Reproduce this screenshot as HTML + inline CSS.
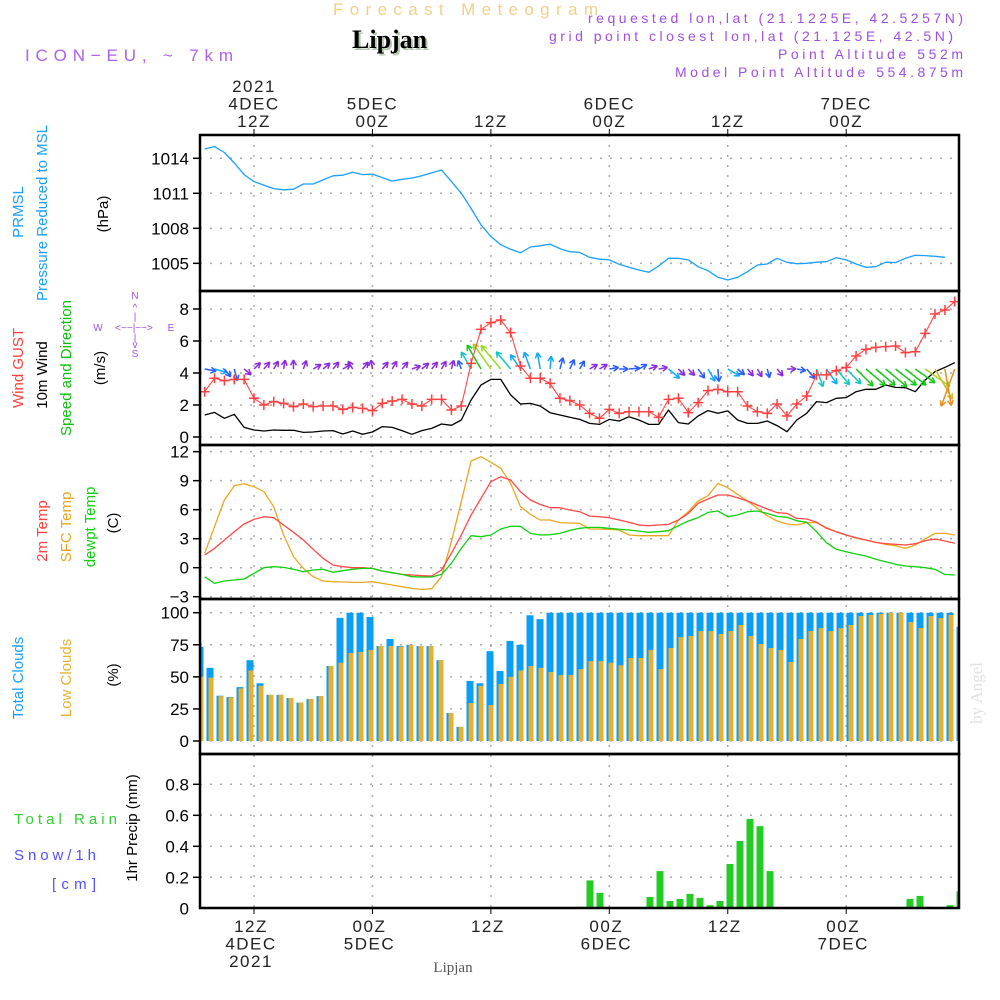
<!DOCTYPE html>
<html><head><meta charset="utf-8"><title>Forecast Meteogram - Lipjan</title>
<style>
html,body{margin:0;padding:0;background:#fff;width:1000px;height:1000px;overflow:hidden}
svg{display:block}
text{font-family:"Liberation Sans",sans-serif}
</style></head>
<body>
<svg id="chart" width="1000" height="1000" viewBox="0 0 1000 1000" xmlns="http://www.w3.org/2000/svg">
<!-- header -->
<text x="333" y="15" font-size="17" fill="#f2cf8a" textLength="265" lengthAdjust="spacing">Forecast Meteogram</text>
<text x="354" y="50" font-size="26" font-weight="bold" style="font-family:'Liberation Serif',serif" fill="#b8c8b0">Lipjan</text>
<text x="352" y="48" font-size="26" font-weight="bold" style="font-family:'Liberation Serif',serif" fill="#000">Lipjan</text>
<text x="25" y="61" font-size="17" fill="#b060ee" textLength="208" lengthAdjust="spacing">ICON−EU, ~ 7km</text>
<text x="588" y="23" font-size="14" fill="#a050e0" textLength="375" lengthAdjust="spacing">requested lon,lat (21.1225E, 42.5257N)</text>
<text x="549" y="41" font-size="14" fill="#a050e0" textLength="404" lengthAdjust="spacing">grid point closest lon,lat (21.125E, 42.5N)</text>
<text x="778" y="59" font-size="14" fill="#a050e0" textLength="185" lengthAdjust="spacing">Point Altitude 552m</text>
<text x="675" y="77" font-size="14" fill="#a050e0" textLength="288" lengthAdjust="spacing">Model Point Altitude 554.875m</text>

<!-- left panel labels -->
<g font-size="15" text-anchor="middle">
<text transform="translate(23,212) rotate(-90)" fill="#1a9fff">PRMSL</text>
<text transform="translate(47,213) rotate(-90)" fill="#1a9fff">Pressure Reduced to MSL</text>
<text transform="translate(108,214) rotate(-90)" fill="#000">(hPa)</text>
<text transform="translate(23,368) rotate(-90)" fill="#ff4040">Wind GUST</text>
<text transform="translate(47,375) rotate(-90)" fill="#000">10m Wind</text>
<text transform="translate(71,368) rotate(-90)" fill="#10c010">Speed and Direction</text>
<text transform="translate(105,368) rotate(-90)" fill="#000">(m/s)</text>
<text transform="translate(47,531) rotate(-90)" fill="#ff4040">2m Temp</text>
<text transform="translate(71,527) rotate(-90)" fill="#e8a820">SFC Temp</text>
<text transform="translate(95,527) rotate(-90)" fill="#10d010">dewpt Temp</text>
<text transform="translate(118,523) rotate(-90)" fill="#000">(C)</text>
<text transform="translate(23,678) rotate(-90)" fill="#1a9fff">Total Clouds</text>
<text transform="translate(71,678) rotate(-90)" fill="#e8b030">Low Clouds</text>
<text transform="translate(118,675) rotate(-90)" fill="#000">(%)</text>
<text transform="translate(137,828) rotate(-90)" fill="#000">1hr Precip (mm)</text>
</g>
<text x="14" y="824" font-size="15" fill="#30d030" textLength="103" lengthAdjust="spacing">Total  Rain</text>
<text x="14" y="860" font-size="15" fill="#5050ff" textLength="82" lengthAdjust="spacing">Snow/1h</text>
<text x="52" y="889" font-size="15" fill="#5050ff" textLength="44" lengthAdjust="spacing">[cm]</text>
<g fill="#a050e0" font-size="10" text-anchor="middle">
<text x="135" y="299">N</text><text x="135" y="311">^</text><text x="135" y="320">|</text>
<text x="98" y="331">W</text><text x="134" y="331">&lt;−−|−−&gt;</text><text x="171" y="331">E</text>
<text x="135" y="341">|</text><text x="135" y="348">v</text><text x="135" y="357">S</text>
</g>
<text transform="translate(982,693) rotate(-90)" font-size="17" style="font-family:'Liberation Serif',serif" fill="#dfe3df" text-anchor="middle">by Angel</text>
<text x="453" y="972" font-size="15" style="font-family:'Liberation Serif',serif" fill="#555" text-anchor="middle">Lipjan</text>
<g id="layer"></g>
</svg>
<script>
// ---- data (hourly, starting 07Z 4DEC = -5h from 12Z 4DEC) ----
const startHour = -5;
const pressure = [1014.8,1015.0,1014.5,1013.6,1012.6,1012.0,1011.7,1011.4,1011.3,1011.35,1011.8,1011.8,1012.15,1012.5,1012.55,1012.8,1012.6,1012.65,1012.35,1012.05,1012.2,1012.3,1012.5,1012.75,1013.0,1012.0,1011.0,1009.7,1008.3,1007.3,1006.6,1006.2,1005.9,1006.4,1006.5,1006.65,1006.25,1006.0,
1005.94,1005.52,1005.35,1005.29,1004.92,1004.66,1004.43,1004.23,1004.77,1005.43,1005.43,1005.29,1004.71,1004.37,1003.8,1003.57,1003.8,1004.28,1004.86,1004.94,1005.43,1005.09,1004.97,1005.0,1005.1,1005.14,1005.48,1005.29,1004.94,1004.66,1004.71,1005.1,1005.06,1005.43,1005.69,1005.66,1005.6,1005.52];
const windGust = [2.83,3.67,3.52,3.6,3.6,2.42,2.0,2.21,2.1,1.9,2.06,1.9,1.94,1.94,1.73,1.85,1.79,1.65,2.1,2.25,2.35,2.06,1.94,2.35,2.35,1.69,1.94,4.6,6.73,7.15,7.31,6.52,4.44,3.67,3.67,3.35,2.42,2.27,2.0,1.48,
1.17,1.73,1.48,1.58,1.58,1.58,1.23,2.35,2.42,1.52,2.15,2.9,2.98,2.83,2.83,1.94,1.58,1.48,2.06,1.31,2.06,2.56,3.88,3.88,4.15,4.35,5.06,5.48,5.6,5.65,5.69,5.27,5.33,6.48,7.69,7.94,8.46];
const wind10m = [1.375,1.54,1.17,1.42,0.6,0.44,0.375,0.44,0.42,0.42,0.29,0.31,0.375,0.4,0.19,0.375,0.17,0.31,0.65,0.6,0.4,0.17,0.4,0.54,0.81,0.73,1.06,2.31,3.25,3.6,3.6,2.63,2.06,2.1,1.94,1.52,1.375,1.23,1.1,0.85,
0.79,1.1,1.0,1.27,1.06,0.79,0.79,1.69,0.9,0.81,1.31,1.65,1.48,1.63,1.06,0.85,0.85,1.0,0.71,0.33,1.06,1.48,2.21,2.15,2.42,2.46,2.83,2.98,2.98,3.25,3.1,3.08,2.83,3.56,4.08,4.35,4.65];
const windDir = [100,105,140,165,130,
45,40,30,10,0,20,60,50,40,60,330,40,350,40,30,40,70,50,40,30,
15,340,330,330,325,320,320,325,340,350,5,15,25,30,
60,60,80,90,85,60,70,80,130,135,135,145,150,175,120,130,140,150,165,140,90,100,140,160,145,140,135,135,130,130,130,128,128,125,125,150,170,200];
const temp2m = [1.31,2.0,2.86,3.72,4.52,5.0,5.27,5.17,4.42,3.66,2.86,1.9,0.97,0.28,0.1,0,0,-0.07,-0.34,-0.52,-0.69,-0.76,-0.83,-0.86,-0.24,1.49,3.38,5.45,7.18,8.89,9.41,9.07,7.86,7.0,6.55,6.2,6.2,5.97,5.79,5.34,
5.27,5.17,4.93,4.69,4.42,4.34,4.42,4.48,4.93,5.62,6.65,7.1,7.52,7.52,7.24,6.9,6.48,6.07,5.69,5.62,5.1,5.04,4.69,4.07,3.72,3.38,3.1,2.86,2.62,2.48,2.42,2.35,2.48,2.79,2.97,2.76,2.52];
const tempSfc = [1.49,4.24,7.0,8.48,8.69,8.38,7.86,6.31,3.38,1.14,-0.07,-0.93,-1.38,-1.45,-1.48,-1.52,-1.52,-1.45,-1.62,-1.79,-1.96,-2.14,-2.24,-2.17,-0.93,2.69,6.83,11.03,11.48,10.9,10.28,8.72,6.31,5.52,4.93,4.93,4.66,4.62,4.59,4.0,
4.0,3.97,3.9,3.38,3.31,3.31,3.31,3.31,4.93,5.79,6.9,7.45,8.72,8.27,7.59,6.9,6.14,5.38,4.83,4.52,4.42,4.66,4.66,4.14,3.72,3.38,3.04,2.86,2.62,2.42,2.28,2.0,2.35,2.97,3.55,3.55,3.38];
const dewpt = [-0.93,-1.62,-1.38,-1.27,-1.17,-0.59,0,0.1,0.03,-0.17,-0.41,-0.24,-0.17,-0.48,-0.31,-0.17,-0.07,-0.07,-0.34,-0.52,-0.69,-0.93,-0.96,-0.96,-0.69,0.45,2.0,3.31,3.21,3.38,4.0,4.28,4.28,3.55,3.38,3.41,3.55,3.86,4.07,4.17,
4.17,4.07,3.97,3.9,3.79,3.66,3.72,3.83,4.34,4.83,5.17,5.72,5.86,5.27,5.45,5.79,5.86,5.62,5.31,5.21,4.86,4.69,3.72,2.59,1.9,1.65,1.42,1.21,0.87,0.62,0.35,0.18,0.1,0,-0.17,-0.69,-0.76];
const totalClouds = [73.5,57,35.3,34.3,42,63,45,36,36,33.5,29.9,32.7,35,58.5,96,100,100,96.6,74,79.5,74,75,74,74,63,21.8,11,46.8,45,70,54.6,78,75,98,95,100,100,100,100,
100,100,100,100,100,100,100,100,100,100,100,100,100,100,100,100,100,100,100,100,100,100,100,100,100,100,100,100,100,100,100,100,100,100,100,100,100,89];
const lowClouds = [50,49.4,35,34,41,55,43,36,36,33.5,30,32.7,35,58.5,61,68.6,69.4,71,74,74,73.5,75,74,74,63,21.8,11,29.6,43,28,44.4,50,55,58.5,57,53.8,51.4,51.4,56,
62.3,62.3,61,59,64.7,64.7,71,56,72.5,81,81.8,85.7,85.7,83.4,85.7,90.4,81.8,75.6,72.5,71,61.6,79.5,85.7,88,85.7,88,90.4,97.4,98.2,99,100,100,92.7,88,97.4,95.8,98.2,88.8];
const precip = [0,0,0,0,0,0,0,0,0,0,0,0,0,0,0,0,0,0,0,0,0,0,0,0,0,0,0,0,0,0,0,0,0,0,0,0,0,
0.005,0.01,0.18,0.1,0.005,0,0.005,0,0.073,0.24,0.047,0.06,0.093,0.067,0.02,0.047,0.286,0.434,0.576,0.53,0.24,0.005,0.005,0,0,0,0,0,0,0,0,0,0,0,0.06,0.08,0.01,0,0.02,0.11];
const pTicks = [1014,1011,1008,1005];
const wTicks = [0,2,4,6,8];
const tTicks = [-3,0,3,6,9,12];
const cTicks = [0,25,50,75,100];
const rTicks = [0,0.2,0.4,0.6,0.8];
const timeHours = [0,12,24,36,48,60];
const topLabels = [["2021","4DEC","12Z"],["5DEC","00Z"],["12Z"],["6DEC","00Z"],["12Z"],["7DEC","00Z"]];
const bottomLabels = [["12Z","4DEC","2021"],["00Z","5DEC"],["12Z"],["00Z","6DEC"],["12Z"],["00Z","7DEC"]];

// ---- axes ----
const L = 200, R = 959;
const xT = h => 254 + h * 9.87;
const xB = k => 200 + k * 10;
const yP = v => 158.3 + (1014 - v) * 11.67;
const yW = v => 437 - v * 16;
const yT = v => 567.7 - v * 9.67;
const yC = v => 741 - v * 1.283;
const yR = v => 908.3 - v * 155;
const panels = [[135,291],[291,445],[445,599],[599,754],[754,908]];

const NS = "http://www.w3.org/2000/svg";
const layer = document.getElementById("layer");
function mk(tag, attrs, parent) {
  const e = document.createElementNS(NS, tag);
  for (const k in attrs) e.setAttribute(k, attrs[k]);
  (parent || layer).appendChild(e);
  return e;
}
const clip = mk("clipPath", {id: "plotclip"});
mk("rect", {x: L, y: 135, width: R - L, height: 773}, clip);

function yaxis(ticks, yf, fmt, name) {
  ticks.forEach(v => {
    const y = yf(v);
    const g = mk("line", {x1: L, x2: R, y1: y, y2: y, stroke: "#aaa", "stroke-width": 1.5, "stroke-dasharray": "2 8"});
    
    
    const t = mk("line", {x1: 193, x2: L, y1: y, y2: y, stroke: "#000", "stroke-width": 1.5});
    
    
    const tx = mk("text", {x: 189, y: y + 6, "font-size": 17, "text-anchor": "end", fill: "#000"});
    tx.textContent = fmt(v);
    
    
  });
}
yaxis(pTicks, yP, v => String(v), "pressure-axis");
yaxis(wTicks, yW, v => String(v), "wind-axis");
yaxis(tTicks, yT, v => v < 0 ? "−" + (-v) : String(v), "temp-axis");
yaxis(cTicks, yC, v => String(v), "clouds-axis");
yaxis(rTicks.filter(v => v > 0), yR, v => v.toFixed(1), "precip-axis");
{
  const tx = mk("text", {x: 189, y: yR(0) + 6, "font-size": 17, "text-anchor": "end", fill: "#000"});
  tx.textContent = "0";
  
  
}

timeHours.forEach((h, i) => {
  const x = xT(h);
  const g = mk("line", {x1: x, x2: x, y1: 135, y2: 908, stroke: "#aaa", "stroke-width": 1.5, "stroke-dasharray": "2 8"});
  
  
  const t1 = mk("line", {x1: x, x2: x, y1: 129, y2: 135, stroke: "#000", "stroke-width": 1});
  
  
  const t2 = mk("line", {x1: x, x2: x, y1: 908, y2: 914, stroke: "#000", "stroke-width": 1});
  
  
  const top = topLabels[i];
  top.forEach((s, j) => {
    const tx = mk("text", {x: x, y: 127 - (top.length - 1 - j) * 17.5, "font-size": 17, "text-anchor": "middle", fill: "#222", "letter-spacing": 1.5});
    tx.textContent = s;
    
    
  });
  bottomLabels[i].forEach((s, j) => {
    const tx = mk("text", {x: x - 3, y: 932 + j * 17.5, "font-size": 17, "text-anchor": "middle", fill: "#222", "letter-spacing": 1.5});
    tx.textContent = s;
    
    
  });
});

const plot = mk("g", {"clip-path": "url(#plotclip)"});



function line(arr, yf, color, name, w) {
  const pts = arr.map((v, i) => xT(startHour + i).toFixed(1) + "," + yf(v).toFixed(1)).join(" ");
  const p = mk("polyline", {points: pts, fill: "none", stroke: color, "stroke-width": w || 1.3, "stroke-linejoin": "round"}, plot);
  
  
}
line(pressure, yP, "#1a9fff", "pressure-line");
totalClouds.forEach((v, k) => {
  const r = mk("rect", {x: xB(k) - 3.5, y: yC(v), width: 7, height: yC(0) - yC(v), fill: "#0a9ff5"}, plot);
  
  
});
lowClouds.forEach((v, k) => {
  const r = mk("rect", {x: xB(k) - 1.5, y: yC(v), width: 5, height: yC(0) - yC(v), fill: "#e8b030"}, plot);
  
  
});
precip.forEach((v, k) => {
  if (v <= 0) return;
  const r = mk("rect", {x: xB(k) - 3.5, y: yR(v), width: 7, height: Math.max(1, yR(0) - yR(v)), fill: "#22cc22"}, plot);
  
  
});
line(tempSfc, yT, "#e8a820", "sfc-temp-line");
line(temp2m, yT, "#ff4848", "temp-2m-line");
line(dewpt, yT, "#10d010", "dewpt-line");
line(wind10m, yW, "#000", "wind-10m-line");
function arrowColor(s) {
  if (s < 1) return "#8a2be2";
  if (s < 1.5) return "#2a5cff";
  if (s < 2.2) return "#10a8ff";
  if (s < 2.8) return "#10c8c0";
  if (s < 3.3) return "#18c818";
  if (s < 3.8) return "#98d820";
  if (s < 4.3) return "#d8b820";
  return "#e89020";
}
windDir.forEach((d, i) => {
  const s = wind10m[i];
  const len = Math.max(9, s * 8.5);
  const a = d * Math.PI / 180;
  const x0 = xT(startHour + i), y0 = 369;
  const x1 = x0 + Math.sin(a) * len, y1 = y0 - Math.cos(a) * len;
  const col = arrowColor(s);
  const g = mk("g", {stroke: col, "stroke-width": 1.5, fill: "none"}, plot);
  
  
  mk("line", {x1: x0, y1: y0, x2: x1, y2: y1}, g);
  [0.5, -0.5].forEach(off => {
    const b = a + Math.PI + off;
    mk("line", {x1: x1, y1: y1, x2: x1 + Math.sin(b) * 6, y2: y1 - Math.cos(b) * 6}, g);
  });
});
line(windGust, yW, "#ff4848", "wind-gust-line", 1.1);
windGust.forEach((v, i) => {
  const x = xT(startHour + i), y = yW(v);
  const m = mk("path", {d: `M${x-5},${y}H${x+5}M${x},${y-5}V${y+5}`, stroke: "#ff4040", "stroke-width": 1.5}, plot);
  
  
});

panels.forEach((p, i) => {
  const r = mk("rect", {x: L, y: p[0], width: R - L, height: p[1] - p[0], fill: "none", stroke: "#000", "stroke-width": 2.5});
  
  
});
</script>
</body></html>
